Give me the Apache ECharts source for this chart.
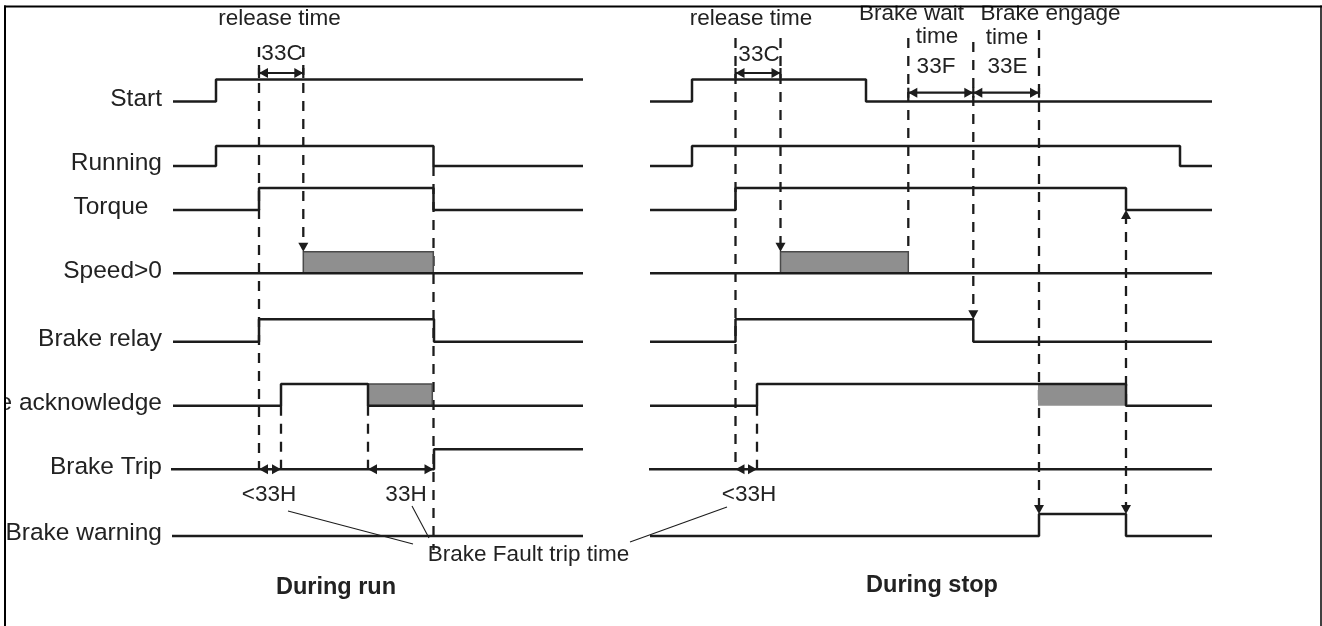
<!DOCTYPE html>
<html><head><meta charset="utf-8">
<script src="https://cdn.jsdelivr.net/npm/echarts@6/dist/echarts.min.js"></script>
<style>html,body{margin:0;padding:0;background:#fff}#c{width:1322px;height:626px}</style>
</head><body><div id="c"></div>
<script>
// ---- rows (signal levels on the vertical scale) ----
const rowLabels = ['Start', 'Running', 'Torque  ', 'Speed>0', 'Brake relay', 'Brake acknowledge', 'Brake Trip', 'Brake warning'];
const rowLow  = [101.5, 166, 210, 273.3, 341.7, 405.7, 469.3, 536];
const rowHigh = [79.5, 146, 188, 251.7, 319.3, 384, 449.3, 514];

// ---- signals: [time, level] transitions, one list per row ----
const runSignals = [
  [[173,0],[216,1],[583,1]],
  [[173,0],[216,1],[433.5,0],[583,0]],
  [[173,0],[259,1],[433.5,0],[583,0]],
  [[173,0],[583,0]],
  [[173,0],[259,1],[434,0],[583,0]],
  [[173,0],[281,1],[368,0],[583,0]],
  [[171,0],[434,1],[583,1]],
  [[172,0],[583,0]]
];
const stopSignals = [
  [[650,0],[692,1],[866,0],[1212,0]],
  [[650,0],[692,1],[1180,0],[1212,0]],
  [[650,0],[735.5,1],[1126,0],[1212,0]],
  [[650,0],[1212,0]],
  [[650,0],[735.5,1],[973.3,0],[1212,0]],
  [[650,0],[757,1],[1126,0],[1212,0]],
  [[649,0],[1212,0]],
  [[650,0],[1039,1],[1126,0],[1212,0]]
];
// shaded intervals: [start, end, row]
const shadedBordered = [[303.3,433.3,3],[368,432.3,5],[780.5,908.3,3]];
const shadedPlain = [[1038,1126,5]];

// ---- timing markers ----
// dashed guides: [time, from, to]
const guides = [
  [259,47,469.3],[303.3,47,248],[433.5,166,550],[281,405.7,469.3],[368,405.7,469.3],
  [735.5,38,469.3],[780.5,38,248],[908.3,38,251.7],[973.3,42,316],[1039,30,511],[1126,214,511],[757,405.7,469.3]
];
// interval arrows: [from, to, level]
const spans = [[259,303.3,73],[735.5,780.5,73],[908.3,973.3,92.7],[973.3,1039,92.7]];
const spanBars = [[259,73],[303.3,73],[735.5,73],[780.5,73],[908.3,92.7],[973.3,92.7],[1039,92.7]];
// arrowheads: [time, level, direction]
const heads = [
  [259,73,'l'],[303.3,73,'r'],[303.3,251.7,'d'],[259,469.3,'l'],[281,469.3,'r'],[368,469.3,'l'],[433.5,469.3,'r'],
  [735.5,73,'l'],[780.5,73,'r'],[780.5,251.7,'d'],[908.3,92.7,'l'],[973.3,92.7,'r'],[973.3,92.7,'l'],[1039,92.7,'r'],
  [973.3,319.3,'d'],[1126,210,'u'],[1039,514,'d'],[1126,514,'d'],[735.5,469.3,'l'],[757,469.3,'r']
];
// leader lines: [[t0,y0],[t1,y1]]
const leaders = [[[288,511],[413,544]],[[412,506],[429,538]],[[727,507],[630,542]]];

// ---- annotation texts: [text, time, level] ----
const notes = [
  ['release time',279.5,19],['33C',282,54],['release time',751,19],['33C',759,55],
  ['Brake wait',911.5,14],['time',937,37],['33F',936,67],
  ['Brake engage',1050.5,14],['time',1007,38],['33E',1007.5,67],
  ['<33H',269,495],['33H',406,495],['<33H',749,495],['Brake Fault trip time',528.5,555]
];
const titles = [['During run',336,588],['During stop',932,586]];
const labelRight = 162;

const INK = '#1c1c1c';
const TXT = '#222';
const FONT = '"Liberation Sans", Arial, sans-serif';

const chart = echarts.init(document.getElementById('c'), null, {renderer:'canvas'});
const series = [];

function sigSeries(list){
  list.forEach((pts, r) => {
    series.push({
      type:'line', step:'end', showSymbol:false, silent:true, z:5,
      data: pts.map(p => [p[0], p[1] ? rowHigh[r] : rowLow[r]]),
      lineStyle:{color:INK, width:2.5}
    });
  });
}
sigSeries(runSignals);
sigSeries(stopSignals);

function boxSeries(data, stroke){
  series.push({
    type:'custom', silent:true, z:4,
    data: data.map(d => [d[0], d[1], rowLow[d[2]]]),
    encode:{x:[0,1], y:2},
    renderItem:(params, api) => {
      const d = data[params.dataIndex];
      const p0 = api.coord([d[0], rowHigh[d[2]]]);
      const p1 = api.coord([d[1], rowLow[d[2]]]);
      return {type:'rect', shape:{x:p0[0], y:p0[1], width:p1[0]-p0[0], height:p1[1]-p0[1]},
        style:{fill:'#8f8f8f', stroke:stroke, lineWidth:stroke ? 1.5 : 0}};
    }
  });
}
boxSeries(shadedBordered, '#4a4a4a');
boxSeries(shadedPlain, null);

// segment series: each item [[t0,y0],[t1,y1]]
function segSeries(segs, width, dash, z){
  series.push({
    type:'custom', silent:true, z:z,
    data: segs.map(s => [s[0][0], s[0][1], s[1][0], s[1][1]]),
    encode:{x:[0,2], y:[1,3]},
    renderItem:(params, api) => {
      const s = segs[params.dataIndex];
      const a = api.coord(s[0]), b = api.coord(s[1]);
      return {type:'line', shape:{x1:a[0], y1:a[1], x2:b[0], y2:b[1]},
        style:{stroke:INK, lineWidth:width, lineDash:dash || null, fill:null}};
    }
  });
}
segSeries(guides.map(g => [[g[0], g[1]],[g[0], g[2]]]), 2.3, [10,8], 3);
segSeries(spans.map(s => [[s[0], s[2]],[s[1], s[2]]])
  .concat(spanBars.map(b => [[b[0], b[1]-5],[b[0], b[1]+5]])), 2.2, null, 5);
segSeries(leaders, 1.1, null, 5);

series.push({
  type:'custom', silent:true, z:6,
  data: heads.map(h => [h[0], h[1]]),
  renderItem:(params, api) => {
    const h = heads[params.dataIndex];
    const p = api.coord([h[0], h[1]]);
    const L = 9, w = 5, x = p[0], y = p[1];
    let pts;
    if (h[2] === 'l') pts = [[x,y],[x+L,y-w],[x+L,y+w]];
    else if (h[2] === 'r') pts = [[x,y],[x-L,y-w],[x-L,y+w]];
    else if (h[2] === 'd') pts = [[x,y],[x-w,y-L],[x+w,y-L]];
    else pts = [[x,y],[x-w,y+L],[x+w,y+L]];
    return {type:'polygon', shape:{points:pts}, style:{fill:INK}};
  }
});

function textSeries(items, font, align){
  series.push({
    type:'custom', silent:true, z:7,
    data: items.map(t => [t[1], t[2]]),
    renderItem:(params, api) => {
      const t = items[params.dataIndex];
      const p = api.coord([t[1], t[2]]);
      return {type:'text', x:p[0], y:p[1], style:{text:t[0], fill:TXT, font:font, align:align, verticalAlign:'middle'}};
    }
  });
}
textSeries(rowLabels.map((s, r) => [s, labelRight, rowLow[r] - 2.5]), '24.5px ' + FONT, 'right');
textSeries(notes, '22.5px ' + FONT, 'center');
textSeries(titles, 'bold 23.5px ' + FONT, 'center');

chart.setOption({
  animation:false,
  backgroundColor:'#fff',
  grid:{left:0, right:0, top:0, bottom:0},
  xAxis:{type:'value', min:0, max:1322, show:false},
  yAxis:{type:'value', min:0, max:626, inverse:true, show:false},
  series: series,
  graphic:[
    {type:'rect', z:100, shape:{x:0, y:0, width:1322, height:5.5}, style:{fill:'#fff'}},
    {type:'rect', z:100, shape:{x:0, y:0, width:4, height:626}, style:{fill:'#fff'}},
    {type:'line', z:101, shape:{x1:4, y1:6.5, x2:1322, y2:6.5}, style:{stroke:'#000', lineWidth:2}},
    {type:'line', z:101, shape:{x1:5, y1:5.5, x2:5, y2:626}, style:{stroke:'#000', lineWidth:2}},
    {type:'line', z:101, shape:{x1:1321, y1:5.5, x2:1321, y2:626}, style:{stroke:'#000', lineWidth:1.5}}
  ]
});
</script></body></html>
